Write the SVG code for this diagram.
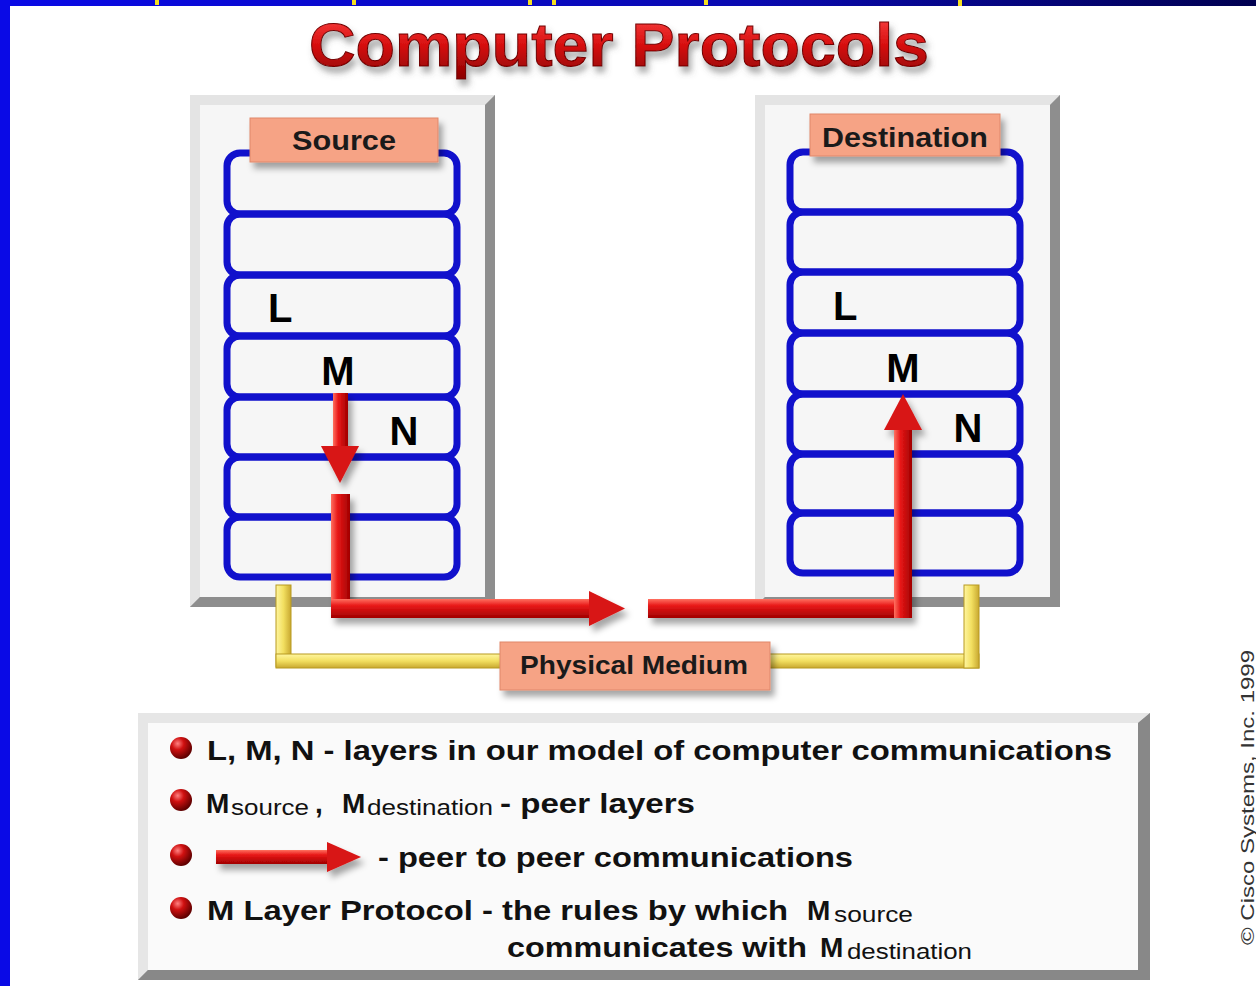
<svg xmlns="http://www.w3.org/2000/svg" width="1256" height="986" viewBox="0 0 1256 986">
<style>
.lbl{font-family:"Liberation Sans",Arial,sans-serif;font-weight:bold;fill:#1a1a1a}
.big{font-family:"Liberation Sans",Arial,sans-serif;font-weight:bold;font-size:40px;fill:#000}
.leg{font-family:"Liberation Sans",Arial,sans-serif;font-weight:bold;font-size:28px;fill:#111}
.sub{font-family:"Liberation Sans",Arial,sans-serif;font-size:22px;fill:#111}
.row{fill:none;stroke:#1111cc;stroke-width:7}
.tag{fill:#f6a385;stroke:#e0876a;stroke-width:1}
.bul{fill:url(#ball)}
</style>
<defs>
<linearGradient id="topbar" x1="0" y1="0" x2="1" y2="0"><stop offset="0" stop-color="#0a0ae6"/><stop offset="0.6" stop-color="#0a0ab0"/><stop offset="1" stop-color="#000050"/></linearGradient>
<linearGradient id="titleG" x1="0" y1="0" x2="0" y2="1"><stop offset="0" stop-color="#ff4a4a"/><stop offset="0.5" stop-color="#d81010"/><stop offset="1" stop-color="#8a0000"/></linearGradient>
<linearGradient id="redH" x1="0" y1="0" x2="0" y2="1"><stop offset="0" stop-color="#ff7060"/><stop offset="0.35" stop-color="#e81818"/><stop offset="1" stop-color="#a00000"/></linearGradient>
<linearGradient id="redV" x1="0" y1="0" x2="1" y2="0"><stop offset="0" stop-color="#ff7060"/><stop offset="0.35" stop-color="#e81818"/><stop offset="1" stop-color="#a00000"/></linearGradient>
<linearGradient id="yelH" x1="0" y1="0" x2="0" y2="1"><stop offset="0" stop-color="#fff6a0"/><stop offset="0.5" stop-color="#f2df60"/><stop offset="1" stop-color="#c8a830"/></linearGradient>
<linearGradient id="yelV" x1="0" y1="0" x2="1" y2="0"><stop offset="0" stop-color="#fff6a0"/><stop offset="0.5" stop-color="#f2df60"/><stop offset="1" stop-color="#c8a830"/></linearGradient>
<radialGradient id="ball" cx="0.35" cy="0.3" r="0.7"><stop offset="0" stop-color="#ff8080"/><stop offset="0.4" stop-color="#d01010"/><stop offset="1" stop-color="#600000"/></radialGradient>
<filter id="sh" x="-20%" y="-20%" width="150%" height="160%"><feDropShadow dx="4" dy="6" stdDeviation="3" flood-color="#000" flood-opacity="0.35"/></filter>
<filter id="tsh" x="-10%" y="-30%" width="120%" height="180%"><feDropShadow dx="3" dy="6" stdDeviation="3" flood-color="#555" flood-opacity="0.5"/></filter>
</defs>

<rect x="0" y="0" width="1256" height="986" fill="#ffffff"/>
<g id="frame">
<rect x="0" y="0" width="1256" height="6" fill="url(#topbar)"/>
<rect x="0" y="0" width="10" height="986" fill="#0a0ae6"/>
<rect x="155" y="0" width="4" height="5" fill="#f5e020"/>
<rect x="352" y="0" width="4" height="5" fill="#f5e020"/>
<rect x="528" y="0" width="4" height="5" fill="#f5e020"/>
<rect x="552" y="0" width="4" height="5" fill="#f5e020"/>
<rect x="704" y="0" width="4" height="5" fill="#f5e020"/>
<rect x="958" y="0" width="4" height="6" fill="#f5e020"/>
</g>

<g id="title">
<text x="619" y="66" text-anchor="middle" font-family="'Liberation Sans',Arial,sans-serif" font-weight="bold" font-size="62" fill="url(#titleG)" stroke="#700000" stroke-width="1" textLength="620" lengthAdjust="spacingAndGlyphs" filter="url(#tsh)">Computer Protocols</text>
</g>

<g id="source">
<rect x="190" y="95" width="305" height="512" fill="#b8b8b8"/>
<polygon points="190,95 495,95 485,105 200,105 200,597 190,607" fill="#e4e4e4"/>
<polygon points="495,95 495,607 190,607 200,597 485,597 485,105" fill="#8e8e8e"/>
<rect x="200" y="105" width="285" height="492" fill="#f6f6f6"/>
<g>
<rect class="row" x="227" y="153" width="230" height="61" rx="13"/>
<rect class="row" x="227" y="214" width="230" height="61" rx="13"/>
<rect class="row" x="227" y="275" width="230" height="61" rx="13"/>
<rect class="row" x="227" y="336" width="230" height="61" rx="13"/>
<rect class="row" x="227" y="397" width="230" height="60" rx="13"/>
<rect class="row" x="227" y="457" width="230" height="60" rx="13"/>
<rect class="row" x="227" y="517" width="230" height="60" rx="13"/>
</g>
<rect class="tag" x="250" y="118" width="188" height="44" filter="url(#sh)"/>
<text class="lbl" x="344" y="150" text-anchor="middle" font-size="27" textLength="104" lengthAdjust="spacingAndGlyphs">Source</text>
<text class="big" x="268" y="322">L</text>
<text class="big" x="338" y="385" text-anchor="middle">M</text>
<text class="big" x="404" y="445" text-anchor="middle">N</text>
</g>

<g id="destination">
<rect x="755" y="95" width="305" height="512" fill="#b8b8b8"/>
<polygon points="755,95 1060,95 1050,105 765,105 765,597 755,607" fill="#e4e4e4"/>
<polygon points="1060,95 1060,607 755,607 765,597 1050,597 1050,105" fill="#8e8e8e"/>
<rect x="765" y="105" width="285" height="492" fill="#f6f6f6"/>
<g>
<rect class="row" x="790" y="152" width="230" height="60" rx="13"/>
<rect class="row" x="790" y="212" width="230" height="60" rx="13"/>
<rect class="row" x="790" y="272" width="230" height="61" rx="13"/>
<rect class="row" x="790" y="333" width="230" height="61" rx="13"/>
<rect class="row" x="790" y="394" width="230" height="60" rx="13"/>
<rect class="row" x="790" y="454" width="230" height="59" rx="13"/>
<rect class="row" x="790" y="513" width="230" height="60" rx="13"/>
</g>
<rect class="tag" x="810" y="114" width="190" height="42" filter="url(#sh)"/>
<text class="lbl" x="905" y="147" text-anchor="middle" font-size="27" textLength="166" lengthAdjust="spacingAndGlyphs">Destination</text>
<text class="big" x="833" y="320">L</text>
<text class="big" x="903" y="382" text-anchor="middle">M</text>
<text class="big" x="968" y="442" text-anchor="middle">N</text>
</g>

<g id="connectors">
<g id="medium-line">
<rect x="276" y="585" width="15" height="82" fill="url(#yelV)" stroke="#b89a20" stroke-width="1"/>
<rect x="276" y="654" width="230" height="14" fill="url(#yelH)" stroke="#b89a20" stroke-width="1"/>
<rect x="765" y="654" width="214" height="14" fill="url(#yelH)" stroke="#b89a20" stroke-width="1"/>
<rect x="964" y="585" width="15" height="83" fill="url(#yelV)" stroke="#b89a20" stroke-width="1"/>
</g>
<g id="red-arrows" filter="url(#sh)">
<rect x="333" y="393" width="15" height="55" fill="url(#redV)"/>
<polygon points="321,446 359,446 340,483" fill="#d81414"/>
<rect x="331" y="494" width="19" height="124" fill="url(#redV)"/>
<rect x="331" y="599" width="261" height="19" fill="url(#redH)"/>
<polygon points="589,591 625,608.5 589,626" fill="#d81414"/>
<rect x="648" y="599" width="264" height="19" fill="url(#redH)"/>
<rect x="894" y="428" width="18" height="190" fill="url(#redV)"/>
<polygon points="884,430 922,430 903,394" fill="#d81414"/>
</g>
</g>

<g id="physical-medium">
<rect class="tag" x="500" y="642" width="270" height="48" filter="url(#sh)"/>
<text class="lbl" x="634" y="674" text-anchor="middle" font-size="25" textLength="228" lengthAdjust="spacingAndGlyphs">Physical Medium</text>
</g>

<g id="legend">
<rect x="138" y="713" width="1012" height="267" fill="#b5b5b5"/>
<polygon points="138,713 1150,713 1138,723 148,723 148,970 138,980" fill="#e6e6e6"/>
<polygon points="1150,713 1150,980 138,980 148,970 1138,970 1138,723" fill="#888888"/>
<rect x="148" y="723" width="990" height="247" fill="#fafafa"/>
<circle class="bul" cx="181" cy="748" r="11"/>
<circle class="bul" cx="181" cy="800" r="11"/>
<circle class="bul" cx="181" cy="855" r="11"/>
<circle class="bul" cx="181" cy="908" r="11"/>
<text class="leg" x="207" y="760" textLength="905" lengthAdjust="spacingAndGlyphs">L, M, N - layers in our model of computer communications</text>
<text class="leg" x="206" y="813">M</text>
<text class="sub" x="231" y="815" textLength="78" lengthAdjust="spacingAndGlyphs">source</text>
<text class="leg" x="315" y="813">,</text>
<text class="leg" x="342" y="813">M</text>
<text class="sub" x="367" y="815" textLength="126" lengthAdjust="spacingAndGlyphs">destination</text>
<text class="leg" x="500" y="813" textLength="195" lengthAdjust="spacingAndGlyphs">- peer layers</text>
<g filter="url(#sh)">
<rect x="216" y="850" width="114" height="14" fill="url(#redH)"/>
<polygon points="327,842 361,857 327,872" fill="#d81414"/>
</g>
<text class="leg" x="378" y="867" textLength="475" lengthAdjust="spacingAndGlyphs">- peer to peer communications</text>
<text class="leg" x="207" y="920" textLength="581" lengthAdjust="spacingAndGlyphs">M Layer Protocol - the rules by which</text>
<text class="leg" x="807" y="920">M</text>
<text class="sub" x="834" y="922" textLength="79" lengthAdjust="spacingAndGlyphs">source</text>
<text class="leg" x="507" y="957" textLength="300" lengthAdjust="spacingAndGlyphs">communicates with</text>
<text class="leg" x="820" y="957">M</text>
<text class="sub" x="847" y="959" textLength="125" lengthAdjust="spacingAndGlyphs">destination</text>
</g>

<g id="copyright">
<text transform="translate(1254,945) rotate(-90)" font-family="'Liberation Sans',Arial,sans-serif" font-size="19" fill="#333" textLength="295" lengthAdjust="spacingAndGlyphs">© Cisco Systems, Inc. 1999</text>
</g>
</svg>
